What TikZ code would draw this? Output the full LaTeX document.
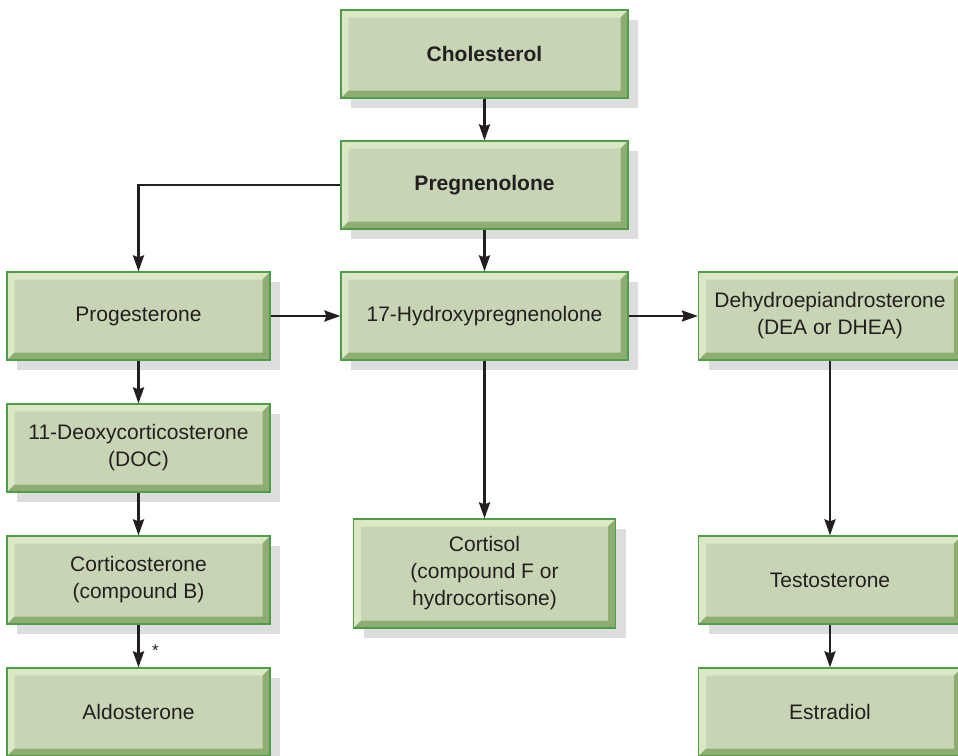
\documentclass[tikz,border=0pt]{standalone}
\usepackage{fontspec}
\setmainfont{Liberation Sans}
\usetikzlibrary{arrows.meta, calc, shadows}

\definecolor{boxface}{HTML}{C8D5B5}
\definecolor{boxlight}{HTML}{DAE8C6}
\definecolor{boxdark}{HTML}{8FAC72}
\definecolor{boxedge}{HTML}{4E9E48}
\definecolor{boxshade}{HTML}{DCDDDF}
\definecolor{ink}{HTML}{231F20}

\begin{document}
\begin{tikzpicture}[x=1pt, y=-1pt, >={Stealth[length=16pt, width=11pt, inset=2pt]},
  font=\fontsize{21}{27}\selectfont, text=ink,
  hormone/.style={draw=boxedge, line width=1.2pt, fill=boxface, inner sep=0pt,
    align=center, minimum width=263pt, minimum height=88pt,
    drop shadow={shadow xshift=10pt, shadow yshift=-10pt, fill=boxshade, opacity=1},
    path picture={
      % light bevel on top and left, dark on right and bottom
      \fill[boxlight] (path picture bounding box.north west)
        -- (path picture bounding box.north east) -- ++(-7.5pt,-7.5pt)
        -| ($(path picture bounding box.south west)+(7.5pt,7.5pt)$)
        -- (path picture bounding box.south west) -- cycle;
      \fill[boxdark] (path picture bounding box.south east)
        -- (path picture bounding box.north east) -- ++(-7.5pt,-7.5pt)
        |- ($(path picture bounding box.south west)+(7.5pt,7.5pt)$)
        -- (path picture bounding box.south west) -- cycle;
    }},
  flow/.style={->, draw=ink, line width=2.5pt}]

  \useasboundingbox (0,0) rectangle (958,755);
  \clip (0,0) rectangle (958,755);

  % centre column
  \node[hormone, minimum width=287pt] (chol) at (484.5,54) {\textbf{Cholesterol}};
  \node[hormone, minimum width=287pt] (preg) at (484.5,185) {\textbf{Pregnenolone}};
  \node[hormone, minimum width=287pt] (ohpreg) at (484.5,316) {17-Hydroxypregnenolone};
  \node[hormone, minimum width=262pt, minimum height=109pt] (cortisol) at (484.5,573.5)
    {Cortisol\\(compound F or\\hydrocortisone)};

  % left column
  \node[hormone] (prog) at (138.5,316) {Progesterone};
  \node[hormone] (doc) at (138.5,448) {11-Deoxycorticosterone\\(DOC)};
  \node[hormone] (cortico) at (138.5,580) {Corticosterone\\(compound B)};
  \node[hormone] (aldo) at (138.5,712) {Aldosterone};

  % right column
  \node[hormone] (dhea) at (830,316) {Dehydroepiandrosterone\\(DEA or DHEA)};
  \node[hormone] (testo) at (830,580) {Testosterone};
  \node[hormone] (estr) at (830,712) {Estradiol};

  \draw[flow] (chol) -- (preg);
  \draw[flow] (preg) -- (ohpreg);
  \draw[flow] (preg.west) -| (prog.north);
  \draw[flow] (prog) -- (ohpreg);
  \draw[flow] (ohpreg) -- (dhea);
  \draw[flow] (ohpreg) -- (cortisol);
  \draw[flow] (prog) -- (doc);
  \draw[flow] (doc) -- (cortico);
  \draw[flow] (cortico) -- node[right=9pt, pos=0.6, font=\fontsize{17}{17}\selectfont] {*} (aldo);
  \draw[flow] (dhea) -- (testo);
  \draw[flow] (testo) -- (estr);
\end{tikzpicture}
\end{document}
